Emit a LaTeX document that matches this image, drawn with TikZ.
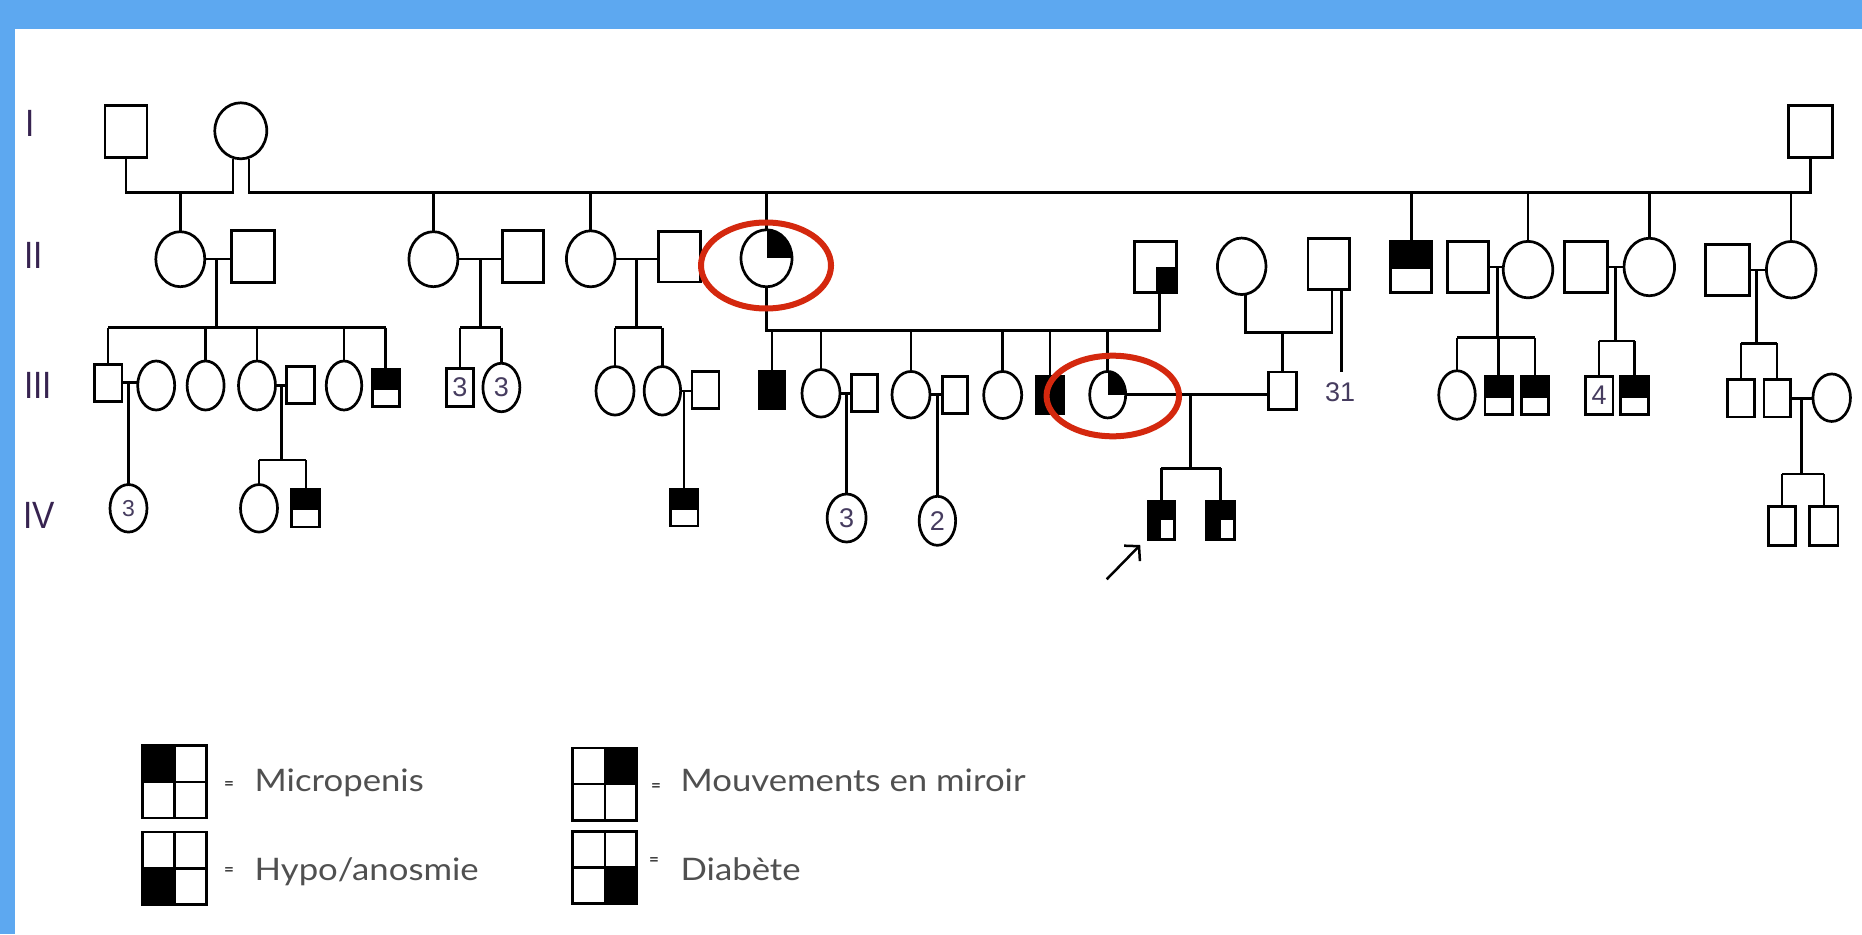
\documentclass[tikz,border=0pt]{standalone}
\usepackage{fontspec}
\setmainfont{Liberation Sans}
\newfontfamily\legfont[FakeStretch=1.12]{Lato}
\newfontfamily\eqfont{Lato}
\newfontfamily\romfont[FakeStretch=0.88]{Liberation Sans}
\usetikzlibrary{shapes.geometric,arrows.meta,calc}
\definecolor{bandblue}{RGB}{93,168,240}
\definecolor{ringred}{RGB}{212,40,14}
\definecolor{numcol}{RGB}{70,60,95}
\definecolor{labcol}{RGB}{55,35,80}
\definecolor{legcol}{RGB}{80,80,80}
\begin{document}
\begin{tikzpicture}[x=1pt,y=-1pt,
  con/.style={line width=2.5pt},
  sym/.style={draw, line width=2.7pt, inner sep=0pt, outer sep=0pt, text=numcol, font=\fontsize{27}{27}\selectfont},
  msq/.style 2 args={sym, rectangle, minimum width=#1pt, minimum height=#2pt},
  fcirc/.style 2 args={sym, ellipse, minimum width=#1pt, minimum height=#2pt},
  tophalf/.style={path picture={\fill (path picture bounding box.north west) rectangle ([yshift=-2pt]path picture bounding box.east);}},
  qtr/.style={path picture={\fill (path picture bounding box.center) rectangle (path picture bounding box.north east);}},
  qbr/.style={path picture={\fill (path picture bounding box.center) rectangle (path picture bounding box.south east);}},
  proband/.style={path picture={\fill (path picture bounding box.north west) rectangle (path picture bounding box.east);
                                \fill (path picture bounding box.west) rectangle (path picture bounding box.south);}},
  ring/.style={draw=ringred, line width=6pt, ellipse, inner sep=0pt},
  rlab/.style={anchor=base west, inner sep=0pt, text=labcol, font=\romfont\fontsize{38}{38}\selectfont},
  legbox/.style={draw, line width=2.8pt, rectangle, inner sep=0pt, minimum width=64pt, minimum height=72.5pt,
     path picture={\fill (path picture bounding box.center) rectangle (path picture bounding box.#1);
       \draw[line width=2.4pt] (path picture bounding box.north) -- (path picture bounding box.south)
                               (path picture bounding box.west) -- (path picture bounding box.east);}},
  legtxt/.style={anchor=base west, inner sep=0pt, text=legcol, font=\legfont\fontsize{31}{31}\selectfont},
  eqs/.style={inner sep=0pt, text=legcol!80!black, font=\eqfont\bfseries\fontsize{17}{17}\selectfont},
  numtxt/.style={anchor=base, inner sep=0pt, text=numcol, font=\fontsize{27}{27}\selectfont}
]
% background
\fill[white] (0,0) rectangle (1862,934);
\fill[bandblue] (0,0) rectangle (1862,29.3);
\fill[bandblue] (0,0) rectangle (15,934);
\useasboundingbox (0,0) rectangle (1862,934);

% generation labels
\node[rlab] (LI) at (25,136.7) {I};
\node[rlab] (LII) at (24,268.3) {II};
\node[rlab] (LIII) at (24,398.3) {III};
\node[rlab] (LIV) at (23,528.3) {IV};

% ---------- Generation I
\node[msq={42}{52}] (I1) at (126,131.5) {};
\node[fcirc={52}{56}] (I2) at (240.8,130.8) {};
\node[msq={44}{52}] (I3) at (1810.7,131.5) {};

% ---------- Generation II
\node[fcirc={49}{55}] (II1) at (180.3,259.2) {};
\node[msq={43}{52}] (II2) at (252.8,256.7) {};
\node[fcirc={49}{55}] (II3) at (433.4,259.2) {};
\node[msq={41}{52}] (II4) at (523,256.7) {};
\node[fcirc={48.5}{56}] (II5) at (590.7,258.8) {};
\node[msq={42.5}{50.5}] (II6) at (679.4,256.7) {};
\node[fcirc={51}{57},qtr] (II7) at (766.5,258.3) {};
\node[msq={42}{51.5},qbr] (II8) at (1155.6,267) {};
\node[fcirc={48.5}{56.5}] (II9) at (1241.7,266.3) {};
\node[msq={41.5}{50.5}] (II10) at (1328.8,264) {};
\node[msq={41}{51},tophalf] (II11) at (1411.3,267) {};
\node[msq={41}{51}] (II12) at (1468,267) {};
\node[fcirc={49.5}{56.5}] (II13) at (1528,269.6) {};
\node[msq={43}{51}] (II14) at (1586.3,267) {};
\node[fcirc={50.5}{57.5}] (II15) at (1649.3,267) {};
\node[msq={44}{50.5}] (II16) at (1727.7,270) {};
\node[fcirc={49.5}{56.5}] (II17) at (1791.2,269.7) {};

% ---------- Generation III
\node[msq={27.5}{37}] (III1) at (108.2,382.7) {};
\node[fcirc={37}{49}] (III2) at (156.2,385.5) {};
\node[fcirc={37}{49}] (III3) at (205.6,385.5) {};
\node[fcirc={37}{49}] (III4) at (257,385.5) {};
\node[msq={27.5}{37}] (III5) at (300.5,385) {};
\node[fcirc={35.5}{49}] (III6) at (344,385.5) {};
\node[msq={27}{37},tophalf] (III7) at (385.7,388.3) {};
\node[msq={27.5}{38.5}] (III8) at (460,387.5) {3};
\node[fcirc={37}{48.5}] (III9) at (501.4,387.5) {3};
\node[fcirc={38}{48.5}] (III10) at (615,390.8) {};
\node[fcirc={36.5}{48.5}] (III11) at (662.4,390.8) {};
\node[msq={27}{37.5}] (III12) at (705.5,390) {};
\node[msq={26}{37.5},fill=black] (III13) at (772,390) {};
\node[fcirc={38}{47.5}] (III14) at (821,393.3) {};
\node[msq={26}{37.5}] (III15) at (864.8,393) {};
\node[fcirc={38}{46.5}] (III16) at (911,394.7) {};
\node[msq={25}{37.5}] (III17) at (955,395) {};
\node[fcirc={38}{47}] (III18) at (1002.7,395) {};
\node[msq={27}{37.5},fill=black] (III19) at (1050,395) {};
\node[fcirc={36}{46.5},qtr] (III20) at (1107.7,394.7) {};
\node[msq={27.5}{37.5}] (III21) at (1282.4,390.7) {};
\node[fcirc={36.5}{48.5}] (III22) at (1457,395) {};
\node[msq={27.5}{38},tophalf] (III23) at (1498.7,395.5) {};
\node[msq={27.5}{38},tophalf] (III24) at (1535,395.5) {};
\node[msq={27.5}{38}] (III25) at (1599.2,395.5) {4};
\node[msq={28}{38},tophalf] (III26) at (1634.7,395.5) {};
\node[msq={27.5}{37.5}] (III27) at (1741,398.3) {};
\node[msq={26.5}{37.5}] (III28) at (1777.2,398.3) {};
\node[fcirc={37.5}{47.5}] (III29) at (1831.7,397.7) {};

% ---------- Generation IV
\node[fcirc={37}{47.5},font=\fontsize{23}{23}\selectfont] (IV1) at (128.5,508.3) {3};
\node[fcirc={37}{47.5}] (IV2) at (259,508.3) {};
\node[msq={28}{37.5},tophalf] (IV3) at (305.8,508.3) {};
\node[msq={27.5}{36.5},tophalf] (IV4) at (684.2,507.8) {};
\node[fcirc={39}{48}] (IV5) at (846.6,518) {3};
\node[fcirc={36.5}{49}] (IV6) at (937.4,520.8) {2};
\node[msq={26.5}{38},proband] (IV7) at (1161.4,520.3) {};
\node[msq={28.5}{38},proband] (IV8) at (1220.5,520.3) {};
\node[msq={27}{39}] (IV9) at (1782,525.8) {};
\node[msq={28.5}{39}] (IV10) at (1823.8,525.8) {};

% ---------- connectors
\coordinate (barI) at (0,192.7);
\coordinate (I2a) at ([xshift=-8pt]I2.south);
\coordinate (I2b) at ([xshift=8pt]I2.south);
\draw[con] (I1.south) -- (I1.south |- barI) -- (I2a |- barI) -- (I2a);
\draw[con] (I2b) -- (I2b |- barI) -- (I3.south |- barI) -- (I3.south);
\foreach \n in {II1,II3,II5,II7,II11,II13,II15,II17}
  \draw[con] (\n.north |- barI) -- (\n.north);

% family II1 x II2
\draw[con] (II1.east) -- (II1.east -| II2.west);
\coordinate (s1) at (216.7,327.7);
\draw[con] (s1 |- II1.east) -- (s1);
\draw[con] (III1.north |- s1) -- (III7.north |- s1);
\foreach \n in {III1,III3,III4,III6,III7}
  \draw[con] (\n.north |- s1) -- (\n.north);
\draw[con] (III1.east) -- (III1.east -| III2.west);
\draw[con] (IV1.north |- III1.east) -- (IV1.north);
\draw[con] (III4.east) -- (III4.east -| III5.west);
\coordinate (s2) at (281.3,460);
\draw[con] (s2 |- III4.east) -- (s2);
\draw[con] (IV2.north |- s2) -- (IV3.north |- s2);
\foreach \n in {IV2,IV3}
  \draw[con] (\n.north |- s2) -- (\n.north);

% family II3 x II4
\draw[con] (II3.east) -- (II3.east -| II4.west);
\coordinate (s3) at (480.4,327.7);
\draw[con] (s3 |- II3.east) -- (s3);
\draw[con] (III8.north |- s3) -- (III9.north |- s3);
\foreach \n in {III8,III9}
  \draw[con] (\n.north |- s3) -- (\n.north);

% family II5 x II6
\draw[con] (II5.east) -- (II5.east -| II6.west);
\coordinate (s5) at (636.5,327.7);
\draw[con] (s5 |- II5.east) -- (s5);
\draw[con] (III10.north |- s5) -- (III11.north |- s5);
\foreach \n in {III10,III11}
  \draw[con] (\n.north |- s5) -- (\n.north);
\draw[con] (III11.east) -- (III11.east -| III12.west);
\draw[con] (IV4.north |- III11.east) -- (IV4.north);

% family II7 x II8
\coordinate (s7) at (0,330.7);
\coordinate (II8d) at ([xshift=4pt]II8.south);
\draw[con] (II7.south) -- (II7.south |- s7) -- (II8d |- s7) -- (II8d);
\foreach \n in {III13,III14,III16,III18,III19,III20}
  \draw[con] (\n.north |- s7) -- (\n.north);
\draw[con] (III14.east) -- (III14.east -| III15.west);
\draw[con] (IV5.north |- III14.east) -- (IV5.north);
\draw[con] (III16.east) -- (III16.east -| III17.west);
\draw[con] (IV6.north |- III16.east) -- (IV6.north);
\draw[con] (III20.east) -- (III20.east -| III21.west);
\coordinate (s8) at (1190.5,468.3);
\draw[con] (s8 |- III20.east) -- (s8);
\draw[con] (IV7.north |- s8) -- (IV8.north |- s8);
\foreach \n in {IV7,IV8}
  \draw[con] (\n.north |- s8) -- (\n.north);

% family II9 x II10
\coordinate (s9) at (0,332.7);
\coordinate (II9d) at ([xshift=4pt]II9.south);
\coordinate (II10d) at ([xshift=3pt]II10.south);
\draw[con] (II9d) -- (II9d |- s9) -- (II10d |- s9) -- (II10d);
\draw[con] (III21.north |- s9) -- (III21.north);
\coordinate (e31) at (1341.7,371.7);
\draw[con] (e31 |- II10.south) -- (e31);
\node[numtxt] (n31) at (1340,401.7) {31};

% family II12 x II13
\draw[con] (II12.east) -- (II12.east -| II13.west);
\coordinate (s12) at (1497.3,337.5);
\draw[con] (s12 |- II12.east) -- (s12);
\draw[con] (III22.north |- s12) -- (III24.north |- s12);
\foreach \n in {III22,III23,III24}
  \draw[con] (\n.north |- s12) -- (\n.north);

% family II14 x II15
\draw[con] (II14.east) -- (II14.east -| II15.west);
\coordinate (s14) at (1615.7,341);
\draw[con] (s14 |- II14.east) -- (s14);
\draw[con] (III25.north |- s14) -- (III26.north |- s14);
\foreach \n in {III25,III26}
  \draw[con] (\n.north |- s14) -- (\n.north);

% family II16 x II17
\draw[con] (II16.east) -- (II16.east -| II17.west);
\coordinate (s16) at (1756.7,343.3);
\draw[con] (s16 |- II16.east) -- (s16);
\draw[con] (III27.north |- s16) -- (III28.north |- s16);
\foreach \n in {III27,III28}
  \draw[con] (\n.north |- s16) -- (\n.north);
\draw[con] (III28.east) -- (III28.east -| III29.west);
\coordinate (s28) at (1801.7,474);
\draw[con] (s28 |- III28.east) -- (s28);
\draw[con] (IV9.north |- s28) -- (IV10.north |- s28);
\foreach \n in {IV9,IV10}
  \draw[con] (\n.north |- s28) -- (\n.north);

% proband arrow
\coordinate (arrT) at (1106.7,579.3);
\coordinate (arrH) at (1140.2,545);
\draw[con, -{Straight Barb[length=10pt,width=22pt]}] (arrT) -- (arrH);

% red rings
\node[ring, minimum width=130pt, minimum height=86pt] (R1) at (766,265.5) {};
\node[ring, minimum width=132.5pt, minimum height=80.6pt] (R2) at (1112.8,396) {};

% ---------- legend
\node[legbox=north west] (L1) at (174.5,781.7) {};
\node[legbox=south west] (L2) at (174.5,868.3) {};
\node[legbox=north east] (L3) at (604.7,784.2) {};
\node[legbox=south east] (L4) at (604.7,867.5) {};
\node[eqs] (E1) at (229,785) {=};
\node[eqs] (E2) at (229,871) {=};
\node[eqs] (E3) at (656,787) {=};
\node[eqs] (E4) at (654,861) {=};
\node[legtxt] (T1) at (254.5,791.7) {Micropenis};
\node[legtxt] (T2) at (254.5,880) {Hypo/anosmie};
\node[legtxt] (T3) at (680.4,791.7) {Mouvements en miroir};
\node[legtxt] (T4) at (680.4,880) {Diabète};
\end{tikzpicture}
\end{document}
